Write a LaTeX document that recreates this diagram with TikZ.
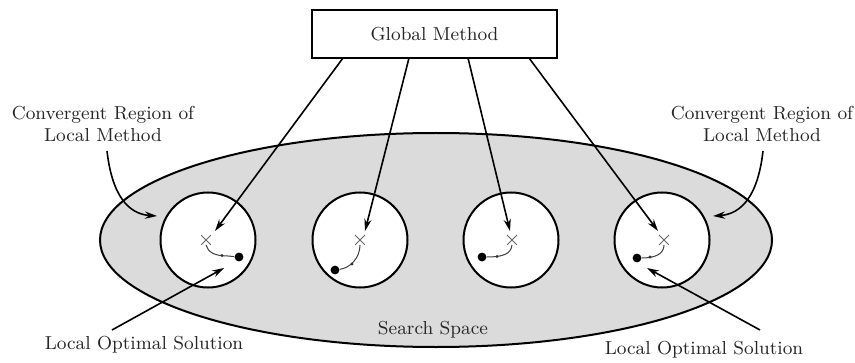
\documentclass[tikz,border=0pt]{standalone}
\usepackage{fontspec}
\usetikzlibrary{arrows.meta,calc}
\begin{document}
\begin{tikzpicture}[x=0.5pt,y=-0.5pt,
  every node/.style={font=\fontsize{9.4}{11}\selectfont, text=black!85},
  note/.style={align=center, inner sep=0pt},
  frame/.style={draw, line width=1.2pt, minimum width=122.5pt, minimum height=24pt, inner sep=0pt},
  region/.style={draw, line width=1pt, fill=white},
  arr/.style={line width=0.8pt, -{Stealth[length=6pt,width=3.6pt]}},
  trail/.style={line width=0.5pt, black!75},
  optdot/.style={circle, fill=black, inner sep=0pt, minimum size=4.4pt},
  middot/.style={circle, fill=black!80, inner sep=0pt, minimum size=1.6pt},
  crossmark/.style={line width=0.5pt, black!60}]
\useasboundingbox (0,0) rectangle (855,363);

% search space
\draw[line width=1pt, fill=black!14] (436,240) ellipse [x radius=168pt, y radius=53.5pt];
\node (ss) at (433,330) {Search Space};

% convergent regions
\foreach \i/\cx in {1/208,2/360,3/511,4/662}
  \draw[region] (\cx,240) circle [radius=23.75pt];

% starting points (crosses)
\foreach \i/\cx in {1/206,2/360,3/512,4/664}{
  \coordinate (x\i) at (\cx,240);
  \draw[crossmark] ($(x\i)+(-2.4pt,-2.4pt)$) -- ($(x\i)+(2.4pt,2.4pt)$)
                   ($(x\i)+(-2.4pt,2.4pt)$) -- ($(x\i)+(2.4pt,-2.4pt)$);
}

% local optimal solutions
\node[optdot] (o1) at (239,257) {};
\node[optdot] (o2) at (335,270) {};
\node[optdot] (o3) at (482,257) {};
\node[optdot] (o4) at (637,258) {};

% local search trajectories
\draw[trail] (206,245) .. controls (208,252) and (214,256) .. (228,256) -- (o1);
\draw[trail] (360,245) .. controls (360,258) and (350,268) .. (o2);
\draw[trail] (512,245) .. controls (511,254) and (503,257) .. (o3);
\draw[trail] (664,245) .. controls (664,254) and (655,258) .. (o4);
\node[middot] at (222,255.5) {};
\node[middot] at (352,264) {};
\node[middot] at (497,256.5) {};
\node[middot] at (650,257) {};

% global method
\node[frame] (gm) at (434.5,34) {Global Method};
\coordinate (s1) at (343,58);
\coordinate (s2) at (409,58);
\coordinate (s3) at (468,58);
\coordinate (s4) at (529,58);
\coordinate (t1) at (215,231);
\coordinate (t2) at (365,231);
\coordinate (t3) at (510,231);
\coordinate (t4) at (658,231);
\foreach \i in {1,...,4}
  \draw[arr] (s\i) -- (t\i);

% annotations
\node[note] (cl) at (103,124) {Convergent Region of\\Local Method};
\node[note] (cr) at (762,124) {Convergent Region of\\Local Method};
\coordinate (cla) at (107,151);
\coordinate (clb) at (157,216);
\coordinate (cra) at (763,151);
\coordinate (crb) at (713,216);
\draw[arr] (cla) .. controls (112,195) and (128,214) .. (clb);
\draw[arr] (cra) .. controls (758,195) and (742,214) .. (crb);

\node[note] (ll) at (144,345) {Local Optimal Solution};
\node[note] (lr) at (704,350) {Local Optimal Solution};
\coordinate (lla) at (112,330);
\coordinate (llb) at (224,268);
\coordinate (lra) at (760,330);
\coordinate (lrb) at (647,268);
\draw[arr] (lla) -- (llb);
\draw[arr] (lra) -- (lrb);
\end{tikzpicture}
\end{document}
